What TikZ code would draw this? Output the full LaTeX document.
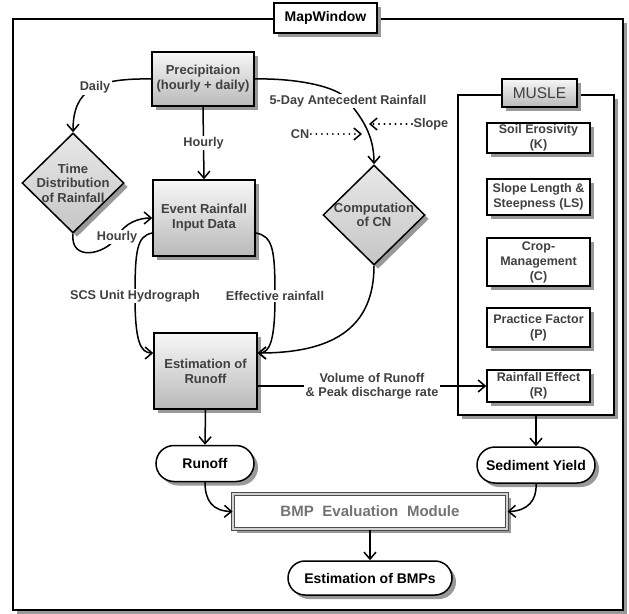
\documentclass[tikz,border=0pt]{standalone}
\usepackage{fontspec}
\setmainfont{Liberation Sans}
\usetikzlibrary{
  arrows.meta,
  positioning,
  calc,
  shapes.geometric,
  shapes.misc,
  shadows
}

\begin{document}
\begin{tikzpicture}[
      x=1pt, y=-1pt,
      >={Straight Barb[length=7pt,width=12pt,line width=1.5pt]},
      base/.style={draw, line width=1.5pt, align=center, inner sep=2pt,
                   drop shadow={shadow xshift=4pt, shadow yshift=-4pt,
                                fill=black!40, opacity=1}},
      procbox/.style={base, top color=gray!6, bottom color=gray!55,
                   text=black!75, minimum width=102pt,
                   font=\bfseries\fontsize{13}{15}\selectfont},
      decision/.style={base, diamond, top color=gray!18, bottom color=gray!45,
                   minimum width=102pt, minimum height=100pt, inner sep=0pt},
      dtext/.style={align=center, inner sep=0pt, text=black!75,
                   font=\bfseries\fontsize{13}{14.5}\selectfont},
      musleitem/.style={base, fill=white, text=black!75, minimum width=103pt,
                   inner sep=1pt, font=\bfseries\fontsize{12.5}{15}\selectfont},
      terminal/.style={base, rounded rectangle, fill=white, minimum height=36pt,
                   font=\bfseries\fontsize{14}{16}\selectfont},
      lbl/.style={fill=white, inner sep=1.5pt, align=center, text=black!75,
                   font=\bfseries\fontsize{12.7}{14}\selectfont},
      flow/.style={line width=1.5pt, ->},
      hint/.style={line width=2.2pt, line cap=round, dash pattern=on 0pt off 5.5pt,
                   -{Straight Barb[length=7pt,width=12pt,line width=1.5pt]}}
  ]
      \useasboundingbox (0,0) rectangle (629,613);

      % MapWindow frame
      \node[base, fill=white, minimum width=610pt, minimum height=591pt] (frame) at (318,314.5) {};
      \node[base, fill=white, minimum width=103pt, minimum height=30pt,
            font=\bfseries\fontsize{14}{16}\selectfont] (mapwin) at (325.5,18) {MapWindow};

      % MUSLE block
      \node[base, fill=white, minimum width=156pt, minimum height=320pt] (musle) at (536,255) {};
      \node[base, top color=gray!6, bottom color=gray!55, text=black!75,
            minimum width=75pt, minimum height=28pt,
            font=\fontsize{15.5}{17}\selectfont] (musletitle) at (539.5,93) {MUSLE};
      \node[musleitem, minimum height=30pt] (k)  at (538.5,138)   {Soil Erosivity\\(K)};
      \node[musleitem, minimum height=36pt] (ls) at (538.5,197)   {Slope Length \&\\Steepness (LS)};
      \node[musleitem, minimum height=48pt] (c)  at (538.5,262)   {Crop-\\Management\\(C)};
      \node[musleitem, minimum height=39pt] (p)  at (538.5,327.5) {Practice Factor\\(P)};
      \node[musleitem, minimum height=32pt] (rfe) at (538.5,386)  {Rainfall Effect\\(R)};

      % Runoff chain
      \node[procbox, minimum height=54pt] (prec) at (203,79) {Precipitaion\\(hourly + daily)};
      \node[procbox, minimum height=76pt] (evt)  at (204,218) {Event Rainfall\\Input Data};
      \node[procbox, minimum height=76pt, minimum width=103pt] (est) at (205.5,371) {Estimation of\\Runoff};

      \node[decision] (tdr) at (73,183) {};
      \node[dtext] (tdrtxt) at (tdr) {Time\\Distribution\\of Rainfall};
      \node[decision] (cn) at (374,215) {};
      \node[dtext] (cntxt) at (cn) {Computation\\of CN};

      % Outputs
      \node[terminal, minimum width=102pt] (runoff) at (205,463.5) {Runoff};
      \node[terminal, minimum width=122pt] (sed) at (536,465) {Sediment Yield};
      \node[base, fill=white, draw=black!70, line width=1pt, double=gray!35,
            double distance=2pt, minimum width=274pt, minimum height=35pt,
            text=black!55, font=\bfseries\fontsize{15}{17}\selectfont] (bmp) at (370,511.5)
            {BMP\hspace{0.3em} Evaluation\hspace{0.3em} Module};
      \node[terminal, minimum width=168pt, minimum height=34pt] (ebmp) at (370,578) {Estimation of BMPs};

      % Inputs of CN
      \node[lbl] (cnin)  at (300,134) {CN};
      \coordinate (cnend) at (362,134);
      \node[lbl] (slope) at (431,124) {Slope};
      \coordinate (slopeend) at (369,124);

      % Connectors
      \draw[flow] (prec.west) .. controls (95,78) and (73,90) .. (tdr.north)
          node[lbl, pos=0.45] {Daily};
      \draw[flow] (prec.south) -- node[lbl] {Hourly} (evt.north);
      \draw[flow] (tdr.south) .. controls (70,262) and (105,255) .. (117,237)
          node[lbl] {Hourly} .. controls (125,222) and (140,218) .. (evt.west);
      \draw[flow] ($(evt.west)+(0,15)$) .. controls (137,236) and (135,250) .. (135,296)
          node[lbl] {SCS Unit Hydrograph} .. controls (135,340) and (140,353) .. ($(est.west)+(0,-18)$);
      \draw[flow] ($(evt.east)+(0,15)$) .. controls (273,236) and (275,250) .. (275,296)
          node[lbl] {Effective rainfall} .. controls (275,340) and (270,353) .. ($(est.east)+(0,-18)$);
      \draw[flow] (prec.east) .. controls (300,78) and (342,88) .. (348,101)
          node[lbl] {5-Day Antecedent Rainfall} .. controls (362,118) and (374,135) .. (cn.north);
      \draw[flow] (cn.south) .. controls (374,330) and (330,353) .. ($(est.east)+(0,-18)$);
      \draw[hint] (cnin) -- (cnend);
      \draw[hint] (slope) -- (slopeend);
      \draw[flow] ($(est.east)+(0,15)$) -- node[lbl] {Volume of Runoff\\\& Peak discharge rate} ($(rfe.west)+(0,0)$);
      \draw[flow] (est.south) -- (runoff.north);
      \draw[flow] (musle.south) -- (sed.north);
      \draw[flow] (runoff.south) .. controls (205,500) and (212,511) .. (bmp.west);
      \draw[flow] (sed.south) .. controls (537,500) and (528,511) .. (bmp.east);
      \draw[flow] (bmp.south) -- (ebmp.north);
  \end{tikzpicture}
\end{document}
